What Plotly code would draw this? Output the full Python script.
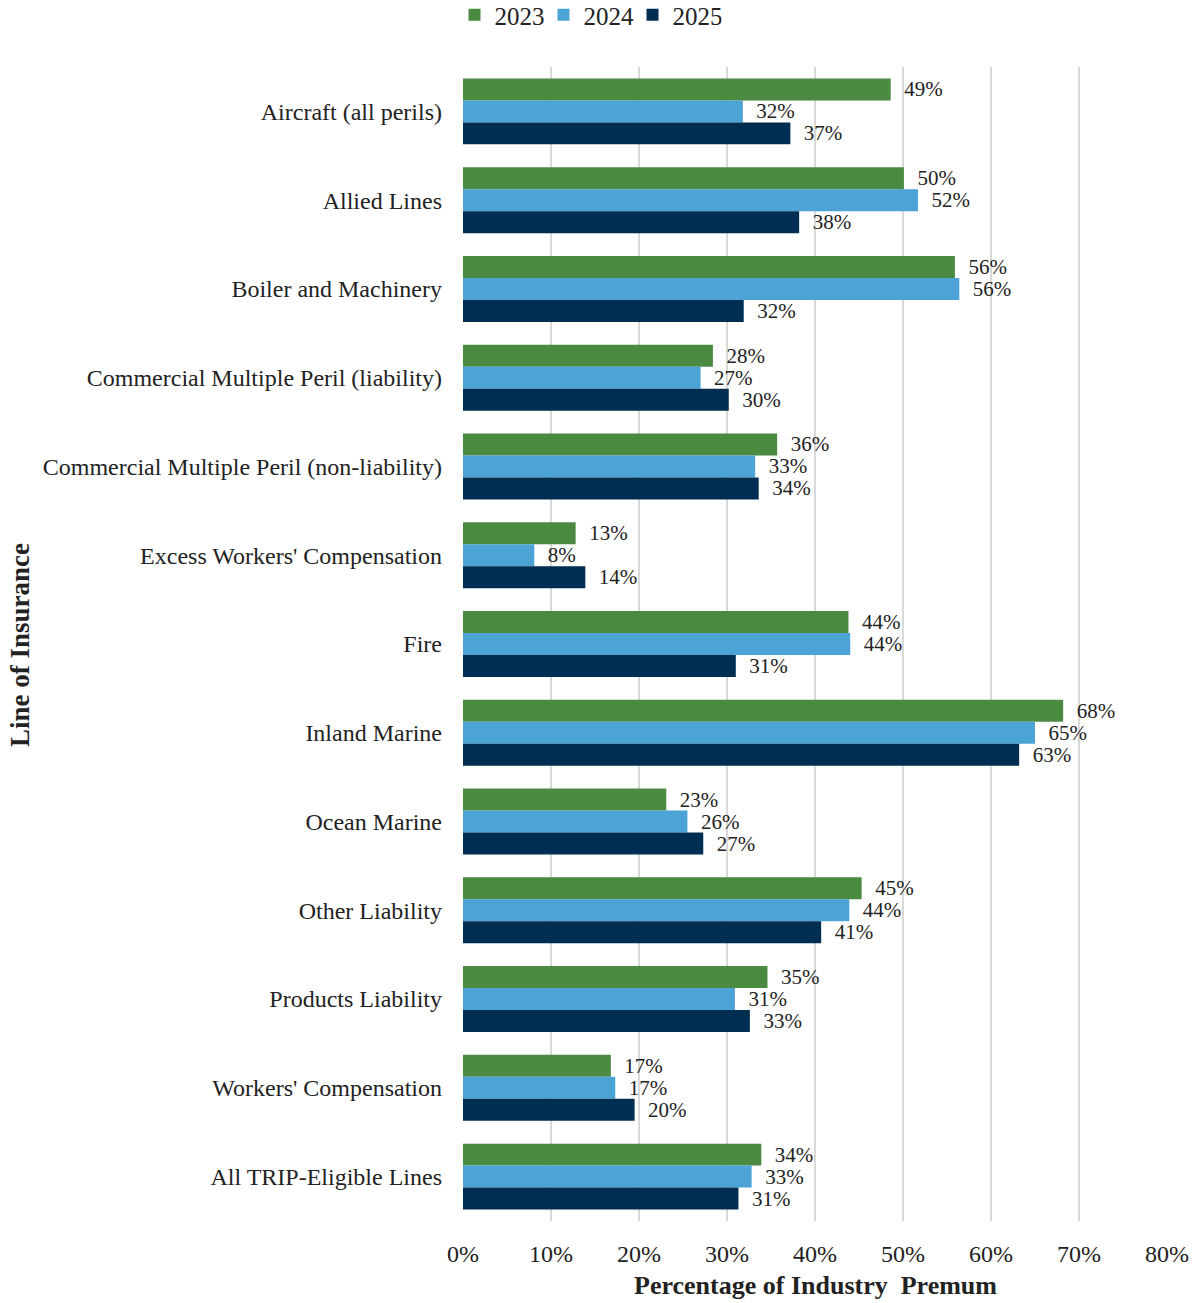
import plotly.graph_objects as go

categories = [
    "Aircraft (all perils)",
    "Allied Lines",
    "Boiler and Machinery",
    "Commercial Multiple Peril (liability)",
    "Commercial Multiple Peril (non-liability)",
    "Excess Workers' Compensation",
    "Fire",
    "Inland Marine",
    "Ocean Marine",
    "Other Liability",
    "Products Liability",
    "Workers' Compensation",
    "All TRIP-Eligible Lines",
]
vals_2023 = [48.6, 50.1, 55.9, 28.4, 35.7, 12.8, 43.8, 68.2, 23.1, 45.3, 34.6, 16.8, 33.9]
vals_2024 = [31.8, 51.7, 56.4, 27.0, 33.2, 8.1, 44.0, 65.0, 25.5, 43.9, 30.9, 17.3, 32.8]
vals_2025 = [37.2, 38.2, 31.9, 30.2, 33.6, 13.9, 31.0, 63.2, 27.3, 40.7, 32.6, 19.5, 31.3]
series = [("2023", vals_2023, "#4A8A41"), ("2024", vals_2024, "#4BA3D6"), ("2025", vals_2025, "#002D52")]
x_ticks = [0, 10, 20, 30, 40, 50, 60, 70, 80]
x_tick_labels = ["0%", "10%", "20%", "30%", "40%", "50%", "60%", "70%", "80%"]

FONT = "Liberation Serif, Times New Roman, serif"
L, R, T, B = 463, 31, 67, 82
W, H = 1198, 1303
plot_w = W - L - R
plot_h = H - T - B

fig = go.Figure()
for name, vals, color in series:
    fig.add_trace(go.Bar(
        y=categories, x=vals, name=name, orientation="h",
        marker=dict(color=color, line=dict(width=0)),
        texttemplate="  %{x:.0f}%", textposition="outside", constraintext="none",
        textfont=dict(family=FONT, size=21, color="#222"),
        cliponaxis=False,
    ))

fig.update_layout(
    width=W, height=H,
    margin=dict(l=L, r=R, t=T, b=B, autoexpand=False),
    barmode="group", bargap=0.257, bargroupgap=0,
    plot_bgcolor="white", paper_bgcolor="white",
    font=dict(family=FONT, size=22, color="#222"),
    showlegend=True,
    legend=dict(orientation="h", xref="container", x=588 / W, xanchor="center",
                yref="container", y=1 - 15 / H, yanchor="middle",
                font=dict(family=FONT, size=25),
                itemwidth=30, traceorder="normal",
                entrywidth=44, entrywidthmode="pixels"),
    xaxis=dict(range=[0, 80], tickvals=x_ticks, ticktext=x_tick_labels, showgrid=True,
               gridcolor="#d9d9d9", gridwidth=2, zeroline=False, showline=False,
               ticklabelstandoff=16, tickfont=dict(family=FONT, size=24)),
    yaxis=dict(autorange="reversed", showgrid=False, zeroline=False, showline=False,
               ticklabelstandoff=20, tickfont=dict(family=FONT, size=24)),
    annotations=[
        dict(text="<b>Line of Insurance</b>", x=(20 - L) / plot_w, xref="paper",
             xanchor="center", y=(T + plot_h - 645) / plot_h, yref="paper", yanchor="middle",
             textangle=-90, showarrow=False, font=dict(family=FONT, size=27)),
        dict(text="<b>Percentage of Industry  Premum</b>", x=(815 - L) / plot_w, xref="paper",
             xanchor="center", y=(T + plot_h - 1285) / plot_h, yref="paper", yanchor="middle",
             showarrow=False, font=dict(family=FONT, size=26)),
    ],
)

fig.write_html("out.html")
